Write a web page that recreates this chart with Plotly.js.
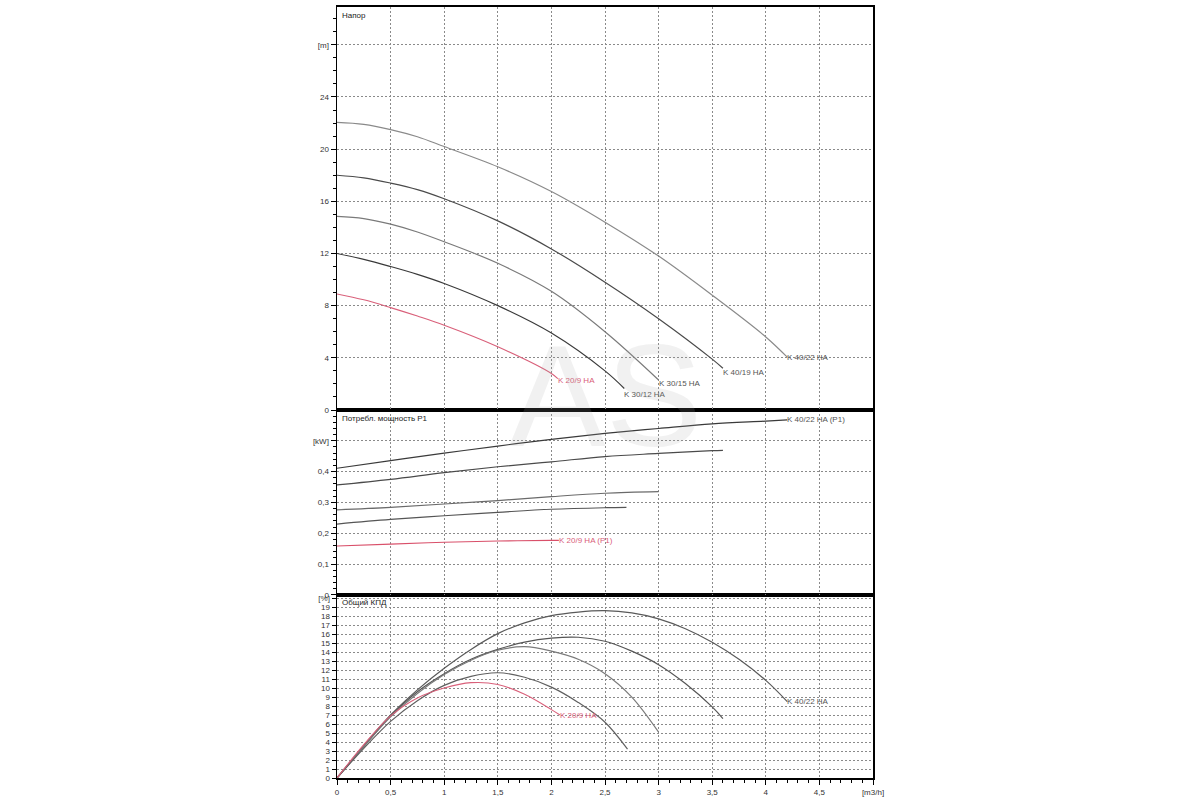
<!DOCTYPE html>
<html>
<head>
<meta charset="utf-8">
<script src="https://cdn.plot.ly/plotly-3.0.1.min.js"></script>
<style>body{margin:0;background:#fff}</style>
</head>
<body>
<div id="chart" style="width:1200px;height:800px"></div>
<script>
var models = ['K 40/22 HA', 'K 40/19 HA', 'K 30/15 HA', 'K 30/12 HA', 'K 20/9 HA'];
var headColors = ['#8a8a8a', '#4a4a4a', '#7a7a7a', '#3a3a3a', '#d9607a'];
var powerColors = ['#3a3a3a', '#4a4a4a', '#6a6a6a', '#555555', '#d9506a'];
var effColors = ['#5a5a5a', '#555555', '#7a7a7a', '#606060', '#d9607a'];

// Напор [m]
var headX = [
    [0, 0.25, 0.5, 0.75, 1, 1.5, 2, 2.5, 3, 3.5, 4, 4.2],
    [0, 0.25, 0.5, 0.75, 1, 1.5, 2, 2.5, 3, 3.5, 3.6],
    [0, 0.25, 0.5, 0.75, 1, 1.5, 2, 2.5, 3],
    [0, 0.25, 0.5, 0.75, 1, 1.5, 2, 2.5, 2.68],
    [0, 0.25, 0.5, 0.75, 1, 1.5, 2, 2.06]
];
var headY = [
    [22.05, 21.9, 21.5, 20.95, 20.2, 18.65, 16.75, 14.4, 11.8, 8.8, 5.6, 4.05],
    [18.0, 17.8, 17.4, 16.9, 16.2, 14.5, 12.35, 9.8, 7.0, 3.9, 3.2],
    [14.85, 14.68, 14.25, 13.65, 12.9, 11.25, 9.1, 6.0, 2.3],
    [12.0, 11.55, 11.0, 10.4, 9.7, 8.0, 5.9, 3.0, 1.65],
    [8.9, 8.45, 7.85, 7.2, 6.5, 4.85, 2.8, 2.4]
];

// Потребл. мощность P1 [kW]
var powerX = [
    [0, 0.5, 1, 1.5, 2, 2.5, 3, 3.5, 4, 4.2],
    [0, 0.5, 1, 1.5, 2, 2.5, 3, 3.5, 3.6],
    [0, 0.5, 1, 1.5, 2, 2.5, 3],
    [0, 0.5, 1, 1.5, 2, 2.5, 2.7],
    [0, 0.5, 1, 1.5, 2, 2.07]
];
var powerY = [
    [0.411, 0.436, 0.46, 0.483, 0.505, 0.524, 0.54, 0.555, 0.564, 0.568],
    [0.357, 0.375, 0.397, 0.416, 0.432, 0.449, 0.459, 0.468, 0.469],
    [0.276, 0.284, 0.295, 0.306, 0.319, 0.33, 0.335],
    [0.23, 0.245, 0.257, 0.268, 0.278, 0.283, 0.284],
    [0.159, 0.165, 0.171, 0.175, 0.177, 0.177]
];

// Общий КПД [%]
var effX = [
    [0, 0.25, 0.5, 0.75, 1, 1.25, 1.5, 1.75, 2, 2.25, 2.5, 2.75, 3, 3.25, 3.5, 3.75, 4, 4.2],
    [0, 0.25, 0.5, 0.75, 1, 1.25, 1.5, 1.75, 2, 2.25, 2.5, 2.75, 3, 3.25, 3.5, 3.6],
    [0, 0.25, 0.5, 0.75, 1, 1.25, 1.5, 1.75, 2, 2.25, 2.5, 2.75, 3],
    [0, 0.25, 0.5, 0.75, 1, 1.25, 1.5, 1.75, 2, 2.25, 2.5, 2.71],
    [0, 0.25, 0.5, 0.75, 1, 1.25, 1.5, 1.75, 2, 2.08]
];
var effY = [
    [0, 3.6, 7.0, 9.8, 12.2, 14.3, 16.05, 17.25, 18.05, 18.45, 18.6, 18.35, 17.7, 16.6, 15.1, 13.2, 10.85, 8.5],
    [0, 3.5, 6.9, 9.6, 11.6, 13.2, 14.3, 15.1, 15.55, 15.65, 15.2, 14.1, 12.6, 10.5, 7.9, 6.6],
    [0, 3.5, 6.8, 9.4, 11.5, 13.1, 14.2, 14.6, 14.1, 13.2, 11.6, 9.0, 5.1],
    [0, 3.3, 6.3, 8.6, 10.3, 11.3, 11.7, 11.2, 10.1, 8.4, 6.2, 3.2],
    [0, 3.7, 6.9, 8.9, 10.0, 10.6, 10.4, 9.3, 7.6, 7.0]
];

var xTickVals = [0, 0.5, 1, 1.5, 2, 2.5, 3, 3.5, 4, 4.5, 5];
var xTickText = ['0', '0,5', '1', '1,5', '2', '2,5', '3', '3,5', '4', '4,5', '[m3/h]'];
var headTickVals = [0, 4, 8, 12, 16, 20, 24, 28];
var headTickText = ['0', '4', '8', '12', '16', '20', '24', '[m]'];
var powerTickVals = [0, 0.1, 0.2, 0.3, 0.4, 0.5];
var powerTickText = ['0', '0,1', '0,2', '0,3', '0,4', '[kW]'];
var effTickVals = [];
var effTickText = [];
for (var i = 0; i <= 20; i++) {
    effTickVals.push(i);
    effTickText.push(i < 20 ? String(i) : '[%]');
}

var traces = [];
var annotations = [];
var labelFont = { family: 'Liberation Sans, Arial', size: 8, color: '#555' };
var redFont = { family: 'Liberation Sans, Arial', size: 8, color: '#d9607a' };

function lastOf(a) { return a[a.length - 1]; }

var headShift = [0, -4, -3, -6, -2];
for (var m = 0; m < models.length; m++) {
    var w = m == 4 ? 1.1 : 1.2;
    traces.push({ x: headX[m], y: headY[m], xaxis: 'x3', yaxis: 'y3', mode: 'lines',
        line: { color: headColors[m], width: w, shape: 'spline', smoothing: 1 }, name: models[m] });
    traces.push({ x: powerX[m], y: powerY[m], xaxis: 'x2', yaxis: 'y2', mode: 'lines',
        line: { color: powerColors[m], width: w, shape: 'spline', smoothing: 1 }, name: models[m] + ' (P1)' });
    traces.push({ x: effX[m], y: effY[m], xaxis: 'x', yaxis: 'y', mode: 'lines',
        line: { color: effColors[m], width: w, shape: 'spline', smoothing: 1 }, name: models[m] });

    annotations.push({ x: lastOf(headX[m]), y: lastOf(headY[m]), xref: 'x3', yref: 'y3',
        text: models[m], showarrow: false, xanchor: 'left', yanchor: 'middle',
        xshift: -2, yshift: headShift[m], font: m == 4 ? redFont : labelFont });
}
// labels only on the largest and smallest pump in the lower panels
[0, 4].forEach(function (m) {
    annotations.push({ x: lastOf(powerX[m]), y: lastOf(powerY[m]), xref: 'x2', yref: 'y2',
        text: models[m] + ' (P1)', showarrow: false, xanchor: 'left', yanchor: 'middle',
        xshift: -2, font: m == 4 ? redFont : labelFont });
    annotations.push({ x: lastOf(effX[m]), y: lastOf(effY[m]), xref: 'x', yref: 'y',
        text: models[m], showarrow: false, xanchor: 'left', yanchor: 'middle',
        xshift: -2, font: m == 4 ? redFont : labelFont });
});

var titleFont = { family: 'Liberation Sans, Arial', size: 8, color: '#222' };
annotations.push({ xref: 'x3 domain', yref: 'y3 domain', x: 0.005, y: 0.995, text: 'Напор',
    showarrow: false, xanchor: 'left', yanchor: 'top', font: titleFont });
annotations.push({ xref: 'x2 domain', yref: 'y2 domain', x: 0.005, y: 0.99, text: 'Потребл. мощность P1',
    showarrow: false, xanchor: 'left', yanchor: 'top', font: titleFont });
annotations.push({ xref: 'x domain', yref: 'y domain', x: 0.005, y: 0.995, text: 'Общий КПД',
    showarrow: false, xanchor: 'left', yanchor: 'top', font: titleFont });
// watermark
annotations.push({ xref: 'paper', yref: 'paper', x: 0.5, y: 0.495, text: 'AS', showarrow: false,
    font: { family: 'Liberation Sans, Arial', size: 145, color: 'rgba(170,170,170,0.16)' } });

var tickFont = { family: 'Liberation Sans, Arial', size: 8, color: '#333' };
function xAxis(extra) {
    var a = {
        range: [0, 5], tickvals: xTickVals, ticktext: xTickText,
        showgrid: true, gridcolor: '#8a8a8a', griddash: '2px,2px', gridwidth: 1,
        showline: true, linecolor: '#000', linewidth: 2, mirror: true,
        ticks: 'outside', ticklen: 5, tickcolor: '#000', tickfont: tickFont,
        zeroline: false, fixedrange: true
    };
    for (var k in extra) a[k] = extra[k];
    return a;
}
function yAxis(extra) {
    var a = {
        showgrid: true, gridcolor: '#8a8a8a', griddash: '2px,2px', gridwidth: 1,
        showline: true, linecolor: '#000', linewidth: 1.5, mirror: true,
        ticks: 'outside', ticklen: 5, tickcolor: '#000', tickfont: tickFont,
        zeroline: false, fixedrange: true
    };
    for (var k in extra) a[k] = extra[k];
    return a;
}

var layout = {
    width: 1200, height: 800,
    margin: { l: 337, r: 327, t: 7, b: 22 },
    paper_bgcolor: '#fff', plot_bgcolor: '#fff',
    showlegend: false,
    xaxis: xAxis({ anchor: 'y', minor: { dtick: 0.1, ticklen: 3, tickcolor: '#000', ticks: 'outside', showgrid: false } }),
    xaxis2: xAxis({ anchor: 'y2', matches: 'x', showticklabels: false, ticks: '' }),
    xaxis3: xAxis({ anchor: 'y3', matches: 'x', showticklabels: false, ticks: '' }),
    yaxis: yAxis({ domain: [0, 0.2374], anchor: 'x', range: [0, 20.35],
        tickvals: effTickVals, ticktext: effTickText, ticklen: 4 }),
    yaxis2: yAxis({ domain: [0.2374, 0.4773], anchor: 'x2', range: [0, 0.6],
        tickvals: powerTickVals, ticktext: powerTickText,
        minor: { dtick: 0.02, ticklen: 3, tickcolor: '#000', ticks: 'outside', showgrid: false } }),
    yaxis3: yAxis({ domain: [0.4773, 1], anchor: 'x3', range: [0, 30.9],
        tickvals: headTickVals, ticktext: headTickText,
        minor: { dtick: 1, ticklen: 3, tickcolor: '#000', ticks: 'outside', showgrid: false } }),
    annotations: annotations
};

Plotly.newPlot('chart', traces, layout, { staticPlot: true });
</script>
</body>
</html>
